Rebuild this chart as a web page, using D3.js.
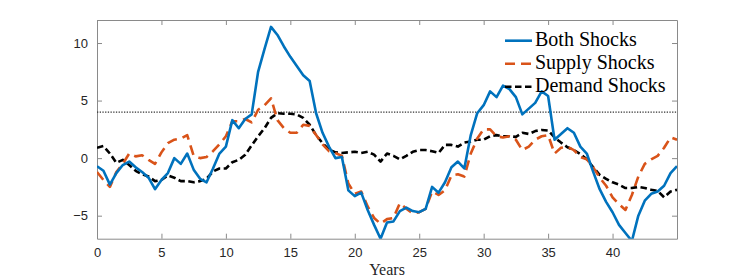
<!DOCTYPE html>
<html><head><meta charset="utf-8">
<script src="https://cdn.jsdelivr.net/npm/d3@7/dist/d3.min.js"></script>
<style>body{margin:0;background:#fff}</style>
</head><body>
<svg id="c" width="747" height="280"></svg>
<script>
const years = [0,0.5,1,1.5,2,2.5,3,3.5,4,4.5,5,5.5,6,6.5,7,7.5,8,8.5,9,9.5,10,10.5,11,11.5,12,12.5,13,13.5,14,14.5,15,15.5,16,16.5,17,17.5,18,18.5,19,19.5,20,20.5,21,21.5,22,22.5,23,23.5,24,24.5,25,25.5,26,26.5,27,27.5,28,28.5,29,29.5,30,30.5,31,31.5,32,32.5,33,33.5,34,34.5,35,35.5,36,36.5,37,37.5,38,38.5,39,39.5,40,40.5,41,41.5,42,42.5,43,43.5,44,44.5,45];
const bothShocks = [-0.7,-1.1,-2.3,-1.3,-0.6,-0.3,-0.8,-1.2,-1.7,-2.7,-1.9,-1.3,0.0,-0.5,0.4,-1.0,-1.8,-2.1,-0.9,0.4,1.0,3.3,2.6,3.4,3.8,7.5,9.5,11.4,10.7,9.7,8.8,8.0,7.2,6.7,3.9,2.2,1.0,0.0,0.1,-2.8,-3.3,-3.0,-4.5,-5.8,-7.0,-5.6,-5.5,-4.6,-4.3,-4.6,-4.7,-4.4,-2.5,-3.0,-2.1,-0.8,-0.3,-0.9,2.0,3.9,4.6,5.8,5.3,6.3,6.0,5.3,3.8,4.3,4.8,5.8,5.4,1.6,2.1,2.6,2.2,1.0,0.4,-1.2,-2.7,-3.8,-4.7,-5.8,-6.5,-7.2,-5.0,-3.7,-3.1,-2.9,-2.4,-1.3,-0.7];
const supplyShocks = [-1.2,-1.9,-2.5,-1.2,-0.5,0.4,0.15,0.25,-0.15,-0.5,0.5,1.3,1.6,1.7,2.0,0.2,0.0,0.1,0.6,1.2,1.9,3.2,3.2,3.4,3.1,4.2,4.6,5.2,3.3,2.6,2.2,2.2,2.9,2.8,2.0,1.2,0.6,0.45,0.2,-2.2,-3.1,-2.9,-4.2,-5.2,-5.7,-5.3,-5.2,-3.9,-4.4,-4.8,-4.7,-4.4,-2.9,-3.2,-2.8,-1.5,-1.4,-1.6,0.4,1.7,2.5,2.5,1.9,1.8,1.9,1.6,0.7,1.0,1.6,1.9,2.0,0.4,0.9,1.0,0.7,0.1,-0.1,-0.8,-1.7,-2.4,-3.4,-4.0,-4.5,-3.2,-1.6,-0.5,-0.1,0.2,0.9,1.8,1.6];
const demandShocks = [0.9,1.05,0.4,-0.4,-0.15,-0.6,-1.1,-1.4,-1.6,-2.0,-1.9,-1.5,-1.7,-2.0,-2.0,-2.1,-2.0,-1.8,-1.15,-0.9,-0.9,-0.35,-0.15,0.3,1.1,1.9,2.6,3.5,3.9,3.85,3.85,3.8,3.5,2.9,2.0,1.3,0.75,0.5,0.45,0.5,0.55,0.45,0.55,0.3,-0.3,0.4,0.2,-0.1,0.2,0.55,0.7,0.7,0.6,0.45,1.15,1.15,1.0,1.35,1.45,1.6,1.6,1.9,2.0,1.9,1.9,1.85,2.2,2.1,2.35,2.45,2.4,1.8,1.35,0.95,0.7,0.35,-0.1,-0.8,-1.45,-1.8,-2.1,-2.3,-2.6,-2.6,-2.5,-2.6,-2.75,-2.85,-3.4,-2.9,-2.75];
const threshold = 4;
const xTicks = [0,5,10,15,20,25,30,35,40];
const yTicks = [-5,0,5,10];
const seriesNames = ["Both Shocks","Supply Shocks","Demand Shocks"];

const svg = d3.select("#c");
const L = 97, R = 677, T = 20, B = 238.7;
const x = d3.scaleLinear().domain([0,45]).range([L,R]);
const y = d3.scaleLinear().domain([-7,12]).range([B,T]);

svg.append("defs").append("clipPath").attr("id","clip")
  .append("rect").attr("x",L).attr("y",T).attr("width",R-L).attr("height",B-T);

const axisCol = "#262626";
// axes
const gx = svg.append("g").attr("transform",`translate(0,${B})`)
  .call(d3.axisBottom(x).tickValues(xTicks).tickSizeInner(-5).tickSizeOuter(0).tickPadding(9));
const gxt = svg.append("g").attr("transform",`translate(0,${T})`)
  .call(d3.axisTop(x).tickValues(xTicks).tickSizeInner(-5).tickSizeOuter(0).tickFormat(""));
const gy = svg.append("g").attr("transform",`translate(${L},0)`)
  .call(d3.axisLeft(y).tickValues(yTicks).tickSizeInner(-5).tickSizeOuter(0).tickPadding(9));
const gyr = svg.append("g").attr("transform",`translate(${R},0)`)
  .call(d3.axisRight(y).tickValues(yTicks).tickSizeInner(-5).tickSizeOuter(0).tickFormat(""));
[gx,gxt,gy,gyr].forEach(g=>{
  g.select(".domain").attr("stroke","#8a8a8a").attr("stroke-width",1);
  g.selectAll(".tick line").attr("stroke","#8a8a8a").attr("stroke-width",1);
  g.selectAll("text").attr("fill",axisCol).attr("font-family","'Liberation Sans',Arial,sans-serif").attr("font-size",13);
});

// threshold dotted line
svg.append("line").attr("x1",L).attr("x2",R).attr("y1",y(threshold)).attr("y2",y(threshold))
  .attr("stroke","#333").attr("stroke-width",1.3).attr("stroke-dasharray","1.3,1.4");

const line = d3.line().x((d,i)=>x(years[i])).y(d=>y(d));
const styles = [
  {data: bothShocks, color:"#0072BD", dash:null},
  {data: supplyShocks, color:"#D95319", dash:"10,6"},
  {data: demandShocks, color:"#000000", dash:"6.5,3.5"}
];
const plot = svg.append("g").attr("clip-path","url(#clip)");
[styles[2], styles[1], styles[0]].forEach(s=>{
  plot.append("path").datum(s.data).attr("d",line).attr("fill","none")
    .attr("stroke",s.color).attr("stroke-width",2.6)
    .attr("stroke-dasharray",s.dash).attr("stroke-linejoin","round");
});

// legend
const leg = svg.append("g");
styles.forEach((s,i)=>{
  const yy = 40.7 + i*23;
  leg.append("line").attr("x1",505).attr("x2",532).attr("y1",yy).attr("y2",yy)
    .attr("stroke",s.color).attr("stroke-width",2.6).attr("stroke-dasharray",s.dash);
  leg.append("text").attr("x",535).attr("y",yy+5.6).text(seriesNames[i])
    .attr("font-family","'Liberation Serif','Times New Roman',serif").attr("font-size",20).attr("fill","#000");
});

svg.append("text").attr("x",(L+R)/2).attr("y",275).attr("text-anchor","middle")
  .attr("font-family","'Liberation Serif','Times New Roman',serif").attr("font-size",16).attr("fill","#262626").text("Years");
</script>
</body></html>
